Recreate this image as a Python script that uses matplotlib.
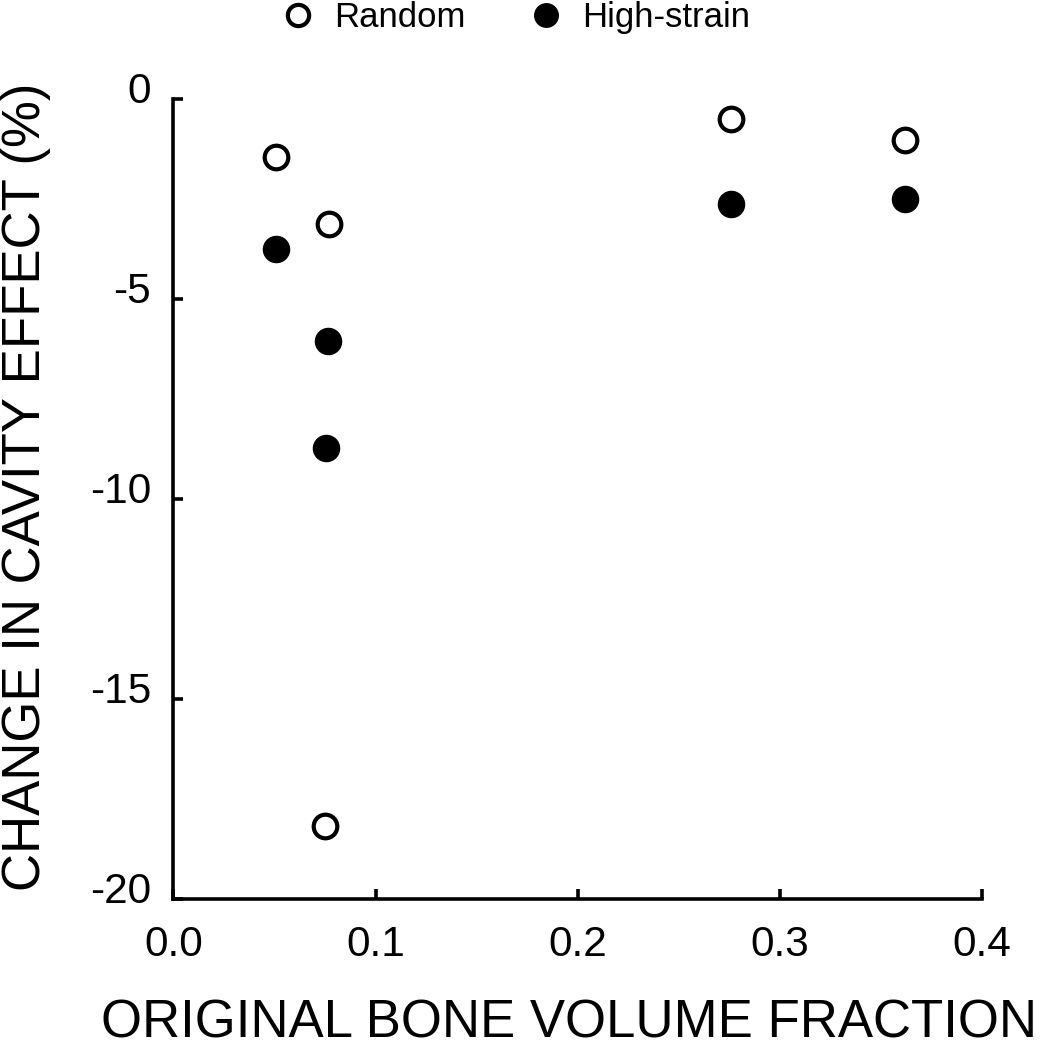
import matplotlib
matplotlib.use("Agg")
import matplotlib.pyplot as plt
from matplotlib.transforms import ScaledTranslation

plt.rcParams['font.family'] = ['Liberation Sans', 'DejaVu Sans']

random_x = [0.0507, 0.0769, 0.0749, 0.276, 0.3617]
random_y = [-1.45, -3.13, -18.18, -0.50, -1.02]
strain_x = [0.0507, 0.0764, 0.0754, 0.276, 0.3617]
strain_y = [-3.75, -6.05, -8.73, -2.63, -2.50]
xticks = [0.0, 0.1, 0.2, 0.3, 0.4]
xticklabels = ["0.0", "0.1", "0.2", "0.3", "0.4"]
yticks = [0, -5, -10, -15, -20]
yticklabels = ["0", "-5", "-10", "-15", "-20"]

fig = plt.figure(figsize=(10.5, 10.47), dpi=100)
ax = fig.add_axes([0.1652, 0.1414, 0.7700, 0.7641])

ax.plot(random_x, random_y, 'o', ms=17, mfc='white', mec='black', mew=3.0,
        label='Random', clip_on=False)
ax.plot(strain_x, strain_y, 'o', ms=18.8, mfc='black', mec='black', mew=1,
        label='High-strain', clip_on=False)

ax.set_xlim(0, 0.4)
ax.set_ylim(-20, 0)
ax.set_xticks(xticks)
ax.set_xticklabels(xticklabels)
ax.set_yticks(yticks)
ax.set_yticklabels(yticklabels)

for s in ['top', 'right']:
    ax.spines[s].set_visible(False)
for s in ['left', 'bottom']:
    ax.spines[s].set_linewidth(2.6)
    ax.spines[s].set_capstyle('projecting')

ax.tick_params(direction='in', length=7, width=2.6, labelsize=30.5, pad=19)
ax.tick_params(axis='y', pad=16)
off = ScaledTranslation(0, 0.11, fig.dpi_scale_trans)
for lab in ax.get_yticklabels():
    lab.set_transform(lab.get_transform() + off)

fig.text(0.542, 0.022, 'ORIGINAL BONE VOLUME FRACTION', ha='center', va='center', fontsize=38)
fig.text(0.025, 0.535, 'CHANGE IN CAVITY EFFECT (%)', ha='center', va='center',
         rotation=90, fontsize=38)

leg = ax.legend(loc='center', bbox_to_anchor=(0.491, 0.983), bbox_transform=fig.transFigure,
                ncol=2, frameon=False, prop={'size': 25},
                markerscale=0.9, handletextpad=0.54, columnspacing=1.83,
                handlelength=1.0, borderpad=0.0, borderaxespad=0.0)

fig.savefig('out.png', dpi=100)
